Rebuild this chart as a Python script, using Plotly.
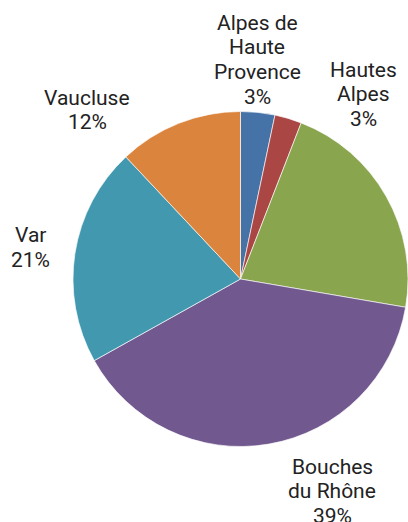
import plotly.graph_objects as go

# Data
categories = ["Alpes de Haute Provence", "Hautes Alpes", "Alpes Maritimes",
              "Bouches du Rhône", "Var", "Vaucluse"]
values = [3.3, 2.6, 21.8, 39.2, 21.1, 12.0]
label_lines = [["Alpes de", "Haute", "Provence"], ["Hautes", "Alpes"], None,
               ["Bouches", "du Rhône"], ["Var"], ["Vaucluse"]]
colors = ["#4572A7", "#AA4643", "#89A54E", "#71588F", "#4198AF", "#DB843D"]

W, H = 408, 522
# label layout in page pixels: (center x, first baseline y)
label_pos = {0: (257, 30.5), 1: (363, 77), 3: (332, 474), 4: (31, 242.5), 5: (87, 105)}
PITCH = 24.5
FS = 21

total = sum(values)
pcts = [round(v / total * 100) for v in values]

# pie box in page pixels: left 73, top 111, bottom 447 (right edge clipped by page)
fig = go.Figure(go.Pie(
    labels=categories, values=values, sort=False, direction="clockwise",
    rotation=0, textinfo="none", hoverinfo="label+percent",
    marker=dict(colors=colors, line=dict(color="rgba(255,255,255,0.8)", width=0.8)),
    domain=dict(x=[73 / W, 1.0], y=[(H - 447) / H, (H - 111) / H]),
    showlegend=False,
))

annotations = []
for i, (cx, by) in label_pos.items():
    lines = label_lines[i] + [f"{pcts[i]}%"]
    for k, t in enumerate(lines):
        base = by + k * PITCH
        ymid = base - 7.5
        annotations.append(dict(
            x=cx / W, y=1 - ymid / H, xref="paper", yref="paper",
            text=t, showarrow=False, xanchor="center", yanchor="middle",
            font=dict(family="Roboto", size=FS, color="#222222"),
        ))

fig.update_layout(
    width=W, height=H,
    margin=dict(l=0, r=0, t=0, b=0),
    paper_bgcolor="white", plot_bgcolor="white",
    annotations=annotations,
)
fig.write_html(
    "out.html",
    config={"displayModeBar": False},
    post_script="document.body.style.margin='0';document.body.style.overflow='hidden';",
)
